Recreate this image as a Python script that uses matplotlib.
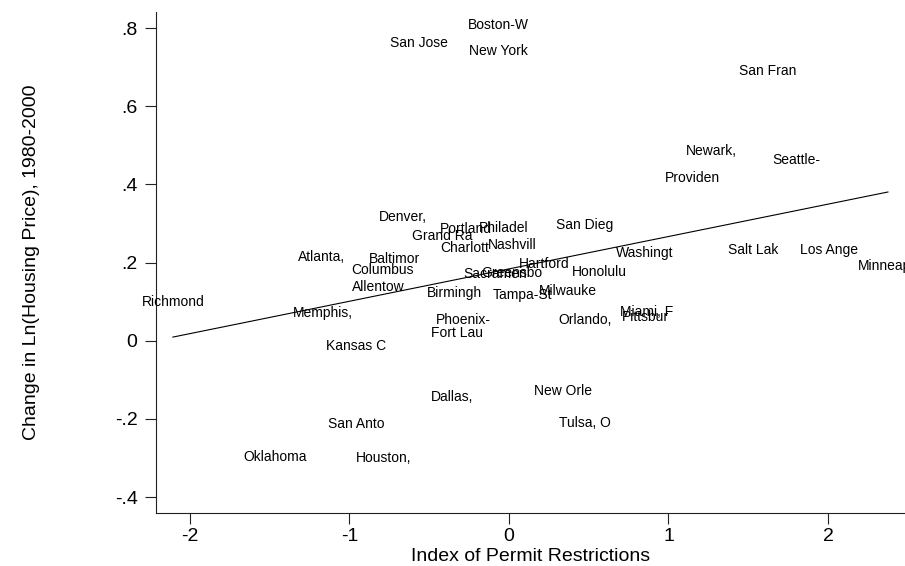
import numpy as np
import matplotlib
matplotlib.use("Agg")
import matplotlib.pyplot as plt

plt.rcParams['font.family'] = ['Liberation Sans', 'DejaVu Sans']
plt.rcParams['axes.unicode_minus'] = False

# metro areas (labels truncated to 8 chars, as in the source)
cities = ["Boston-W", "San Jose", "New York", "San Fran", "Newark,", "Seattle-",
          "Providen", "Denver,", "Portland", "Philadel", "San Dieg", "Grand Ra",
          "Charlott", "Nashvill", "Atlanta,", "Baltimor", "Washingt", "Salt Lak",
          "Los Ange", "Minneapo", "Columbus", "Hartford", "Honolulu", "Sacramen",
          "Greensbo", "Allentow", "Richmond", "Birmingh", "Tampa-St", "Milwauke",
          "Memphis,", "Miami, F", "Pittsbur", "Orlando,", "Phoenix-", "Fort Lau",
          "Kansas C", "New Orle", "Dallas,", "San Anto", "Tulsa, O", "Oklahoma",
          "Houston,"]
permit_index = [-0.069, -0.567, -0.066, 1.621, 1.266, 1.799,
                1.150, -0.665, -0.270, -0.034, 0.476, -0.417,
                -0.279, 0.022, -1.172, -0.715, 0.850, 1.533,
                2.009, 2.376, -0.793, 0.219, 0.564, -0.088,
                0.019, -0.818, -2.107, -0.342, 0.088, 0.367,
                -1.166, 0.865, 0.856, 0.476, -0.285, -0.326,
                -0.959, 0.339, -0.354, -0.956, 0.476, -1.467,
                -0.787]
price_change = [0.808, 0.762, 0.741, 0.690, 0.485, 0.462,
                0.416, 0.316, 0.286, 0.288, 0.296, 0.268,
                0.237, 0.245, 0.214, 0.209, 0.224, 0.232,
                0.232, 0.191, 0.180, 0.196, 0.176, 0.170,
                0.173, 0.137, 0.099, 0.122, 0.117, 0.128,
                0.071, 0.074, 0.061, 0.053, 0.053, 0.020,
                -0.013, -0.128, -0.144, -0.213, -0.211, -0.298,
                -0.300]

xticks = [-2, -1, 0, 1, 2]
yticks = [0.8, 0.6, 0.4, 0.2, 0, -0.2, -0.4]
ytick_labels = [".8", ".6", ".4", ".2", "0", "-.2", "-.4"]

x = np.array(permit_index)
y = np.array(price_change)

fig = plt.figure(figsize=(9.05, 5.66), dpi=100)
ax = fig.add_axes([0.172, 0.0936, 0.828, 0.885])

for cx, cy, name in zip(x, y, cities):
    ax.text(cx, cy, name, ha='center', va='center', fontsize=10, color='black',
            clip_on=False)

# linear fit over the range of x
b, a = np.polyfit(x, y, 1)
xs = np.array([x.min(), x.max()])
ax.plot(xs, a + b * xs, color='black', linewidth=0.8)

ax.set_xlim(-2.215, 2.483)
ax.set_ylim(-0.441, 0.841)
ax.set_xticks(xticks)
ax.set_yticks(yticks)
ax.set_yticklabels(ytick_labels)

for side in ['top', 'right']:
    ax.spines[side].set_visible(False)
for side in ['left', 'bottom']:
    ax.spines[side].set_linewidth(0.8)
    ax.spines[side].set_color('#222222')

ax.tick_params(axis='both', direction='out', length=8, width=0.8,
               color='#222222', labelsize=14)
ax.tick_params(axis='y', pad=5)
ax.tick_params(axis='x', pad=3)

ax.set_xlabel("Index of Permit Restrictions", fontsize=14, labelpad=2)
ax.set_ylabel("Change in Ln(Housing Price), 1980-2000", fontsize=14, va='center')
ax.yaxis.set_label_coords(-0.166, 0.5)

fig.savefig("out.png", dpi=100)
